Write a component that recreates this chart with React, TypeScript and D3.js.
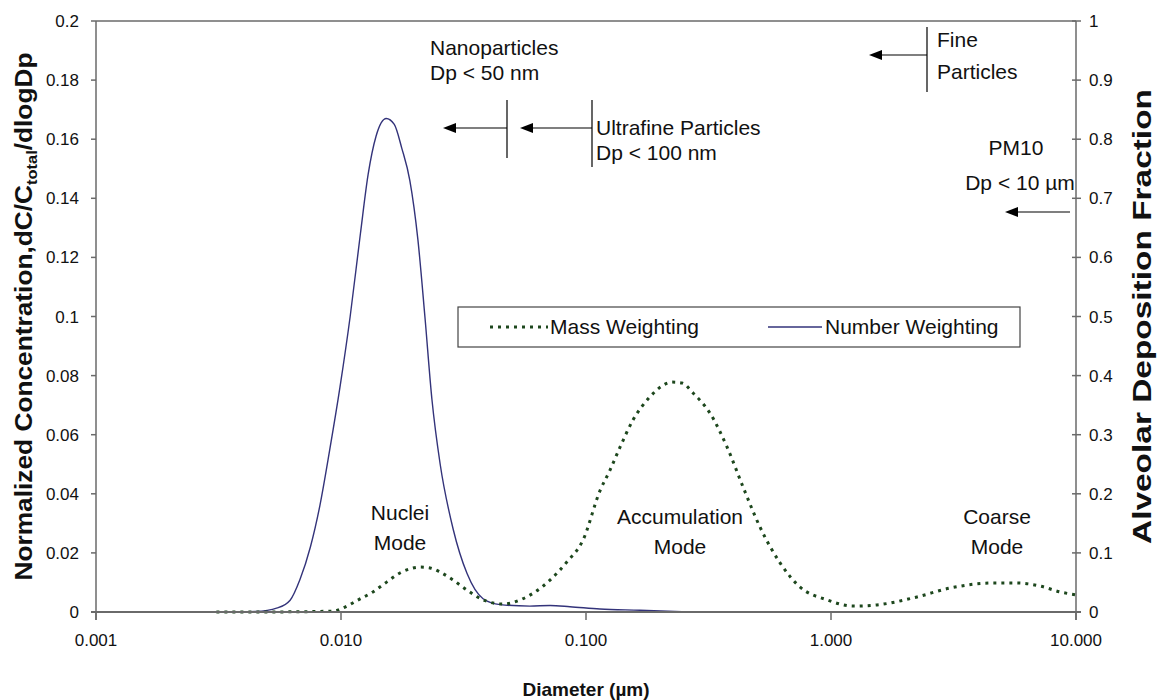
import React from "react";
import * as d3 from "d3";

// ---- data ----
const numberDiam = [0.0031, 0.0045, 0.0055, 0.0062, 0.0068, 0.0075, 0.0082, 0.009, 0.0099, 0.0109, 0.012, 0.0129, 0.0139, 0.0153, 0.0165, 0.0177, 0.0191, 0.0206, 0.022, 0.0235, 0.0254, 0.0287, 0.0327, 0.038, 0.0446, 0.059, 0.0713, 0.086, 0.114, 0.166, 0.263];
const numberVals = [0, 0.0002, 0.0014, 0.004, 0.011, 0.022, 0.036, 0.055, 0.076, 0.1, 0.128, 0.148, 0.161, 0.167, 0.165, 0.157, 0.146, 0.126, 0.1, 0.072, 0.05, 0.028, 0.013, 0.0045, 0.0025, 0.002, 0.0022, 0.0018, 0.001, 0.0006, 0];

const massDiam = [0.0031, 0.0047, 0.0093, 0.0102, 0.0117, 0.0135, 0.0154, 0.0174, 0.0191, 0.021, 0.0231, 0.0254, 0.0287, 0.0327, 0.038, 0.0458, 0.0539, 0.062, 0.0713, 0.0835, 0.0973, 0.114, 0.1253, 0.1377, 0.1556, 0.1824, 0.2042, 0.2244, 0.2466, 0.2735, 0.3206, 0.3766, 0.4376, 0.5127, 0.6196, 0.7463, 0.9646, 1.231, 1.541, 2.245, 3.06, 4.584, 5.741, 7.127, 8.603, 10];
const massVals = [0, 0, 0.0003, 0.0014, 0.004, 0.0068, 0.0102, 0.0132, 0.0146, 0.0152, 0.0149, 0.0135, 0.0108, 0.0074, 0.0041, 0.0027, 0.0041, 0.0068, 0.0108, 0.0169, 0.0244, 0.041, 0.048, 0.0558, 0.065, 0.0728, 0.0765, 0.0778, 0.0775, 0.0741, 0.0673, 0.0558, 0.0423, 0.0288, 0.0166, 0.0085, 0.0041, 0.002, 0.0024, 0.0051, 0.0081, 0.0098, 0.0098, 0.0088, 0.0068, 0.0058];

const xTicks = [0.001, 0.01, 0.1, 1, 10];
const xTickLabels = ["0.001", "0.010", "0.100", "1.000", "10.000"];
const yTicks = [0, 0.02, 0.04, 0.06, 0.08, 0.1, 0.12, 0.14, 0.16, 0.18, 0.2];
const yTickLabels = ["0", "0.02", "0.04", "0.06", "0.08", "0.1", "0.12", "0.14", "0.16", "0.18", "0.2"];
const y2Ticks = [0, 0.1, 0.2, 0.3, 0.4, 0.5, 0.6, 0.7, 0.8, 0.9, 1];
const y2TickLabels = ["0", "0.1", "0.2", "0.3", "0.4", "0.5", "0.6", "0.7", "0.8", "0.9", "1"];

const W = 1158, H = 700;
const L = 96, R = 1076, T = 21, B = 612;
const FONT = "Liberation Sans, Arial, sans-serif";
const AXIS = "#6a6a6a";
const TXT = "#111";
const FS = 21;

export default function App() {
  const x = d3.scaleLog().domain([0.001, 10]).range([L, R]);
  const y = d3.scaleLinear().domain([0, 0.2]).range([B, T]);
  const y2 = d3.scaleLinear().domain([0, 1]).range([B, T]);

  const line = d3
    .line<[number, number]>()
    .x((d) => x(d[0]))
    .y((d) => y(d[1]))
    .curve(d3.curveMonotoneX);

  const numPts = numberDiam.map((d, i) => [d, numberVals[i]] as [number, number]);
  const massPts = massDiam.map((d, i) => [d, massVals[i]] as [number, number]);

  const arrow = (x1: number, x2: number, yy: number, key: string) => (
    <g key={key}>
      <line x1={x1 + 10} x2={x2} y1={yy} y2={yy} stroke="#000" strokeWidth={1.2} />
      <path d={`M${x1},${yy} L${x1 + 13},${yy - 5} L${x1 + 13},${yy + 5} Z`} fill="#000" />
    </g>
  );

  return (
    <svg width={W} height={H} style={{ position: "absolute", left: 0, top: 0, background: "#fff" }} fontFamily={FONT}>
      <rect x={0} y={0} width={W} height={H} fill="#fff" />
      {/* plot frame */}
      <line x1={L} x2={R} y1={T} y2={T} stroke={AXIS} strokeWidth={1.5} />
      <line x1={L} x2={L} y1={T} y2={B + 8} stroke={AXIS} strokeWidth={1.5} />
      <line x1={R} x2={R} y1={T} y2={B + 8} stroke={AXIS} strokeWidth={1.5} />

      {/* left ticks */}
      {yTicks.map((t, i) => (
        <g key={"yt" + i}>
          <line x1={L - 5} x2={L} y1={y(t)} y2={y(t)} stroke={AXIS} strokeWidth={1.5} />
          <text x={L - 17} y={y(t) + 6} textAnchor="end" fontSize={17} fill={TXT}>{yTickLabels[i]}</text>
        </g>
      ))}
      {/* right ticks */}
      {y2Ticks.map((t, i) => (
        <g key={"y2t" + i}>
          <line x1={R - 4} x2={R + 5} y1={y2(t)} y2={y2(t)} stroke={AXIS} strokeWidth={1.5} />
          <text x={R + 13} y={y2(t) + 6} textAnchor="start" fontSize={17} fill={TXT}>{y2TickLabels[i]}</text>
        </g>
      ))}
      {/* x ticks */}
      {xTicks.map((t, i) => (
        <g key={"xt" + i}>
          <line x1={x(t)} x2={x(t)} y1={B} y2={B + 8} stroke={AXIS} strokeWidth={1.5} />
          <text x={x(t)} y={646} textAnchor="middle" fontSize={17} fill={TXT}>{xTickLabels[i]}</text>
        </g>
      ))}

      {/* series */}
      <path d={line(numPts) || ""} fill="none" stroke="#33337a" strokeWidth={1.4} />
      <path d={line(massPts) || ""} fill="none" stroke="#1d471d" strokeWidth={3} strokeDasharray="3 5" />

      {/* baseline on top */}
      <line x1={L - 5} x2={R + 5} y1={B} y2={B} stroke={AXIS} strokeWidth={1.8} />

      {/* legend */}
      <rect x={458} y={307} width={562} height={40} fill="#fff" stroke="#444" strokeWidth={1.2} />
      <line x1={490} x2={548} y1={327} y2={327} stroke="#1d471d" strokeWidth={3} strokeDasharray="3 5" />
      <text x={550} y={334} fontSize={FS} fill={TXT}>Mass Weighting</text>
      <line x1={768} x2={822} y1={327} y2={327} stroke="#33337a" strokeWidth={1.4} />
      <text x={825} y={334} fontSize={FS} fill={TXT}>Number Weighting</text>

      {/* annotations */}
      <text x={430} y={55} fontSize={FS} fill={TXT}>Nanoparticles</text>
      <text x={430} y={80} fontSize={FS} fill={TXT}>Dp &lt; 50 nm</text>
      <line x1={507} x2={507} y1={100} y2={158} stroke="#000" strokeWidth={1.2} />
      {arrow(443, 507, 128, "a1")}
      <line x1={592} x2={592} y1={100} y2={167} stroke="#000" strokeWidth={1.2} />
      {arrow(520, 592, 128, "a2")}
      <text x={596} y={135} fontSize={FS} fill={TXT}>Ultrafine Particles</text>
      <text x={596} y={160} fontSize={FS} fill={TXT}>Dp &lt; 100 nm</text>

      <line x1={927} x2={927} y1={27} y2={92} stroke="#000" strokeWidth={1.2} />
      {arrow(869, 927, 55, "a3")}
      <text x={937} y={47} fontSize={FS} fill={TXT}>Fine</text>
      <text x={937} y={79} fontSize={FS} fill={TXT}>Particles</text>

      <text x={1016} y={155} fontSize={FS} textAnchor="middle" fill={TXT}>PM10</text>
      <text x={1020} y={190} fontSize={FS} textAnchor="middle" fill={TXT}>Dp &lt; 10 µm</text>
      {arrow(1005, 1070, 212, "a4")}

      <text x={400} y={520} fontSize={FS} textAnchor="middle" fill={TXT}>Nuclei</text>
      <text x={400} y={550} fontSize={FS} textAnchor="middle" fill={TXT}>Mode</text>
      <text x={680} y={524} fontSize={FS} textAnchor="middle" fill={TXT}>Accumulation</text>
      <text x={680} y={554} fontSize={FS} textAnchor="middle" fill={TXT}>Mode</text>
      <text x={997} y={524} fontSize={FS} textAnchor="middle" fill={TXT}>Coarse</text>
      <text x={997} y={554} fontSize={FS} textAnchor="middle" fill={TXT}>Mode</text>

      {/* axis titles */}
      <text transform={`translate(32,${(T + B) / 2}) rotate(-90)`} textAnchor="middle" fontSize={24} fontWeight="bold" fill={TXT}
        textLength={528} lengthAdjust="spacingAndGlyphs">
        Normalized Concentration,dC/C
        <tspan fontSize={15} dy={5}>total</tspan>
        <tspan dy={-5}>/dlogDp</tspan>
      </text>
      <text transform={`translate(1151,${(T + B) / 2}) rotate(-90)`} textAnchor="middle" fontSize={25} fontWeight="bold" fill={TXT}
        textLength={455} lengthAdjust="spacingAndGlyphs">
        Alveolar Deposition Fraction
      </text>
      <text x={(L + R) / 2} y={696} textAnchor="middle" fontSize={19} fontWeight="bold" fill={TXT}>Diameter (µm)</text>
    </svg>
  );
}
